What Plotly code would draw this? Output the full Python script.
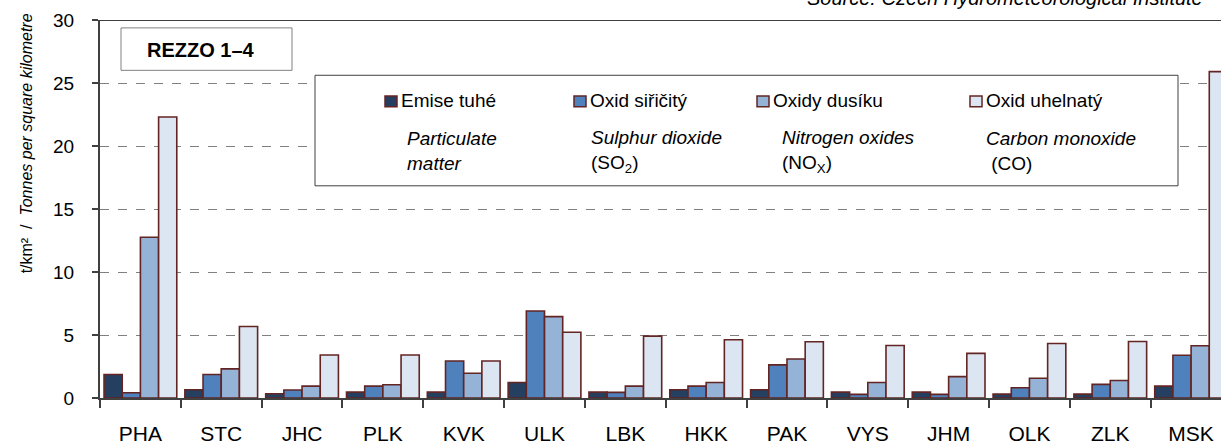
import plotly.graph_objects as go

regions = ["PHA", "STC", "JHC", "PLK", "KVK", "ULK", "LBK", "HKK", "PAK", "VYS", "JHM", "OLK", "ZLK", "MSK"]

particulate = [1.87, 0.66, 0.34, 0.47, 0.47, 1.23, 0.47, 0.66, 0.66, 0.47, 0.47, 0.31, 0.31, 0.94]
sulphur_dioxide = [0.42, 1.87, 0.63, 0.94, 2.94, 6.90, 0.45, 0.94, 2.63, 0.29, 0.29, 0.81, 1.08, 3.39]
nitrogen_oxides = [12.76, 2.31, 0.94, 1.05, 1.97, 6.46, 0.94, 1.23, 3.10, 1.23, 1.70, 1.57, 1.39, 4.15]
carbon_monoxide = [22.3, 5.67, 3.41, 3.41, 2.94, 5.22, 4.91, 4.62, 4.46, 4.17, 3.54, 4.33, 4.49, 25.9]

series_cz = ["Emise tuhé", "Oxid siřičitý", "Oxidy dusíku", "Oxid uhelnatý"]
series_en = ["<i>Particulate</i><br><i>matter</i>", "<i>Sulphur dioxide</i><br>(SO<sub>2</sub>)",
             "<i>Nitrogen oxides</i><br>(NO<sub>X</sub>)", "<i>Carbon monoxide</i><br> (CO)"]
colors = ["#243F60", "#4F81BD", "#95B3D7", "#DCE6F2"]
outline = "#632523"

W, H = 1221, 445
L, T, B = 100, 20, 42
pw, ph = W - L, H - T - B


def px(x):
    return (x - L) / pw


def py(y):
    return (H - B - y) / ph


fig = go.Figure()
for name, vals, col in zip(series_cz, [particulate, sulphur_dioxide, nitrogen_oxides, carbon_monoxide], colors):
    fig.add_trace(go.Bar(x=regions, y=vals, name=name, marker=dict(color=col, line=dict(color=outline, width=1.6))))

shapes = []
annotations = []

# top border of plot
shapes.append(dict(type="line", xref="paper", yref="y", x0=0, x1=1, y0=30, y1=30,
                   line=dict(color="#404040", width=2)))
# REZZO box
shapes.append(dict(type="rect", xref="paper", yref="paper", x0=px(121), x1=px(292), y0=py(71), y1=py(28),
                   line=dict(color="#808080", width=1), fillcolor="white"))
annotations.append(dict(xref="paper", yref="paper", x=px(201), y=py(50), text="<b>REZZO 1–4</b>",
                        xanchor="center", yanchor="middle",
                        showarrow=False, font=dict(size=20, color="black")))
# legend box
shapes.append(dict(type="rect", xref="paper", yref="paper", x0=px(315), x1=px(1178), y0=py(188), y1=py(76),
                   line=dict(color="#404040", width=1), fillcolor="white"))
sq_x = [385, 574, 757, 970]
en_x = [405, 589, 780, 984]
for i in range(4):
    shapes.append(dict(type="rect", xref="paper", yref="paper", x0=px(sq_x[i]), x1=px(sq_x[i] + 12),
                       y0=py(108), y1=py(97), fillcolor=colors[i], line=dict(color=outline, width=1.5)))
    annotations.append(dict(xref="paper", yref="paper", x=px(sq_x[i] + 14), y=py(102), text=series_cz[i],
                            xanchor="left", yanchor="middle", showarrow=False,
                            font=dict(size=19, color="black")))
    annotations.append(dict(xref="paper", yref="paper", x=px(en_x[i]), y=py(153), text=series_en[i],
                            xanchor="left", yanchor="middle", align="left", showarrow=False,
                            font=dict(size=19, color="black")))

# y axis title
annotations.append(dict(xref="paper", yref="paper", x=px(26), y=py(145), textangle=-90,
                        text="t/km²  /  <i>Tonnes per square kilometre</i>", showarrow=False,
                        xanchor="center", yanchor="middle", font=dict(size=16, color="black")))
# source
annotations.append(dict(xref="paper", yref="paper", x=px(1205), y=py(-2), xanchor="right", yanchor="middle",
                        text="<i>Source: Czech Hydrometeorological Institute</i>", showarrow=False,
                        font=dict(size=20, color="black")))

fig.update_layout(
    width=W, height=H,
    margin=dict(l=L, r=0, t=T, b=B),
    barmode="group", bargap=0.1, bargroupgap=0,
    plot_bgcolor="white", paper_bgcolor="white",
    showlegend=False,
    font=dict(family="Liberation Sans, Arial, sans-serif", color="black", size=16),
    shapes=shapes, annotations=annotations,
    xaxis=dict(range=[-0.5, 13.37], tickson="boundaries", ticks="outside", ticklen=8, tickwidth=2,
               tickcolor="#404040", showline=True, linecolor="#404040", linewidth=2,
               showgrid=False, ticklabelstandoff=16, tickfont=dict(size=21)),
    yaxis=dict(range=[0, 30], tickvals=[0, 5, 10, 15, 20, 25, 30], ticks="outside", ticklen=6, tickwidth=2,
               tickcolor="#404040", showline=True, linecolor="#404040", linewidth=2,
               showgrid=True, gridcolor="#808080", griddash="dash", gridwidth=1,
               zeroline=False, tickfont=dict(size=19), ticklabelstandoff=14),
)

# page body has a default margin; drop it so the chart sits at the window's corner
fig.write_html("out.html", config={"displayModeBar": False},
               post_script="document.body.style.margin='0';")
